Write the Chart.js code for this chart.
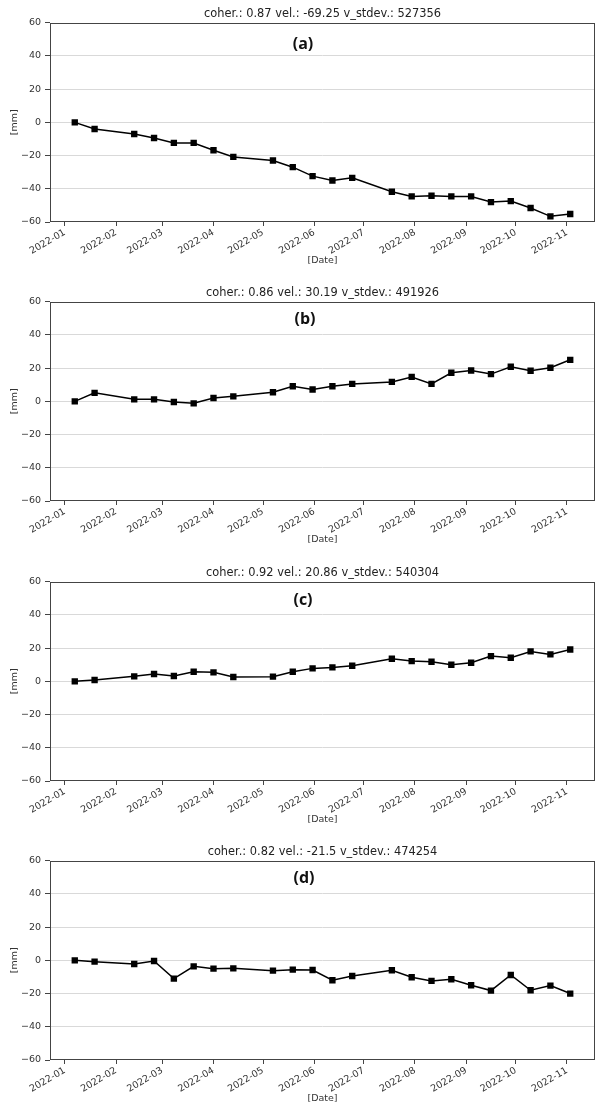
<!DOCTYPE html>
<html>
<head>
<meta charset="utf-8">
<script src="https://cdn.jsdelivr.net/npm/chart.js@4.4.0/dist/chart.umd.min.js"></script>
<style>
  body { margin: 0; background: #fff; width: 597px; height: 1103px; overflow: hidden; position: relative; }
  canvas { position: absolute; left: 0; }
  .tag { position: absolute; font-family: "Open Sans", sans-serif; font-weight: 700; font-size: 16px; color: #111; transform: translate(-50%, -50%); }
</style>
</head>
<body>
<canvas id="ca" width="597" height="270" style="top:0px"></canvas>
<canvas id="cb" width="597" height="270" style="top:279px"></canvas>
<canvas id="cc" width="597" height="270" style="top:559px"></canvas>
<canvas id="cd" width="597" height="270" style="top:838px"></canvas>
<div class="tag" style="left:303px;top:43px">(a)</div>
<div class="tag" style="left:305px;top:318px">(b)</div>
<div class="tag" style="left:303px;top:599px">(c)</div>
<div class="tag" style="left:304px;top:877px">(d)</div>
<script>
// ───── data ─────
const dates = ['2022-01-07','2022-01-19','2022-02-12','2022-02-24','2022-03-08','2022-03-20',
  '2022-04-01','2022-04-13','2022-05-07','2022-05-19','2022-05-31','2022-06-12','2022-06-24',
  '2022-07-18','2022-07-30','2022-08-11','2022-08-23','2022-09-04','2022-09-16','2022-09-28',
  '2022-10-10','2022-10-22','2022-11-03'];

const monthTicks = ['2022-01','2022-02','2022-03','2022-04','2022-05','2022-06',
  '2022-07','2022-08','2022-09','2022-10','2022-11'];

const dispA = [0, -4, -7, -9.4, -12.4, -12.4, -16.8, -20.8, -23, -27, -32.4, -35, -33.4,
  -41.8, -44.6, -44.2, -44.6, -44.6, -48, -47.4, -51.6, -56.6, -55.2];
const dispB = [0, 5.1, 1.2, 1.2, -0.4, -1.2, 2, 3, 5.5, 9.1, 7.1, 9.1, 10.5,
  11.7, 14.7, 10.5, 17.2, 18.6, 16.4, 20.8, 18.4, 20.2, 25];
const dispC = [0, 0.8, 3, 4.4, 3.2, 5.8, 5.4, 2.6, 2.8, 5.8, 7.8, 8.4, 9.4,
  13.6, 12.2, 11.8, 10, 11.2, 15.2, 14.2, 18, 16.2, 19.2];
const dispD = [0, -0.8, -2.2, -0.4, -11, -3.6, -5, -4.8, -6.2, -5.6, -5.8, -12, -9.4,
  -6, -10.2, -12.4, -11.4, -15, -18.2, -8.8, -18, -15.2, -20];

const titles = [
  'coher.: 0.87 vel.: -69.25 v_stdev.: 527356',
  'coher.: 0.86 vel.: 30.19 v_stdev.: 491926',
  'coher.: 0.92 vel.: 20.86 v_stdev.: 540304',
  'coher.: 0.82 vel.: -21.5 v_stdev.: 474254'
];

// days since 2022-01-01 (no date adapter available, so use a linear axis)
const t0 = Date.UTC(2022, 0, 1);
function dayOf(s) {
  const p = s.split('-').map(Number);
  return (Date.UTC(p[0], p[1] - 1, p[2] || 1) - t0) / 86400000;
}
const tickDays = monthTicks.map(dayOf);

const FONT = '"DejaVu Sans", sans-serif';

const frame = {
  id: 'frame',
  beforeDatasetsDraw(chart) {
    const a = chart.chartArea, ctx = chart.ctx;
    ctx.save();
    ctx.strokeStyle = '#444';
    ctx.lineWidth = 1;
    ctx.strokeRect(Math.round(a.left) + 0.5, Math.round(a.top) + 0.5,
      Math.round(a.right - a.left) - 1, Math.round(a.bottom - a.top) - 1);
    ctx.restore();
  }
};

function makeChart(id, values, title) {
  new Chart(document.getElementById(id), {
    type: 'line',
    data: {
      datasets: [{
        data: dates.map((d, i) => ({ x: dayOf(d), y: values[i] })),
        borderColor: '#000',
        backgroundColor: '#000',
        borderWidth: 1.5,
        pointStyle: 'rect',
        pointRadius: 4.5,
        pointBorderWidth: 0,
        tension: 0
      }]
    },
    options: {
      responsive: false,
      animation: false,
      layout: { autoPadding: false, padding: { left: 0, right: 2, top: 0, bottom: 0 } },
      plugins: {
        legend: { display: false },
        tooltip: { enabled: false },
        title: {
          display: true, text: title, fullSize: false,
          color: '#222', font: { family: FONT, size: 11.4, weight: 'normal' },
          padding: { top: 7, bottom: 2 }
        }
      },
      scales: {
        x: {
          type: 'linear', min: -9, max: 321,
          afterBuildTicks: s => { s.ticks = tickDays.map(v => ({ value: v })); },
          afterFit: s => { s.height = 48; s.paddingLeft = 0; s.paddingRight = 0; },
          ticks: {
            autoSkip: false, minRotation: 30, maxRotation: 30, padding: 1,
            color: '#333', font: { family: FONT, size: 9.5 },
            callback: v => monthTicks[tickDays.indexOf(v)]
          },
          grid: { drawOnChartArea: false, tickColor: '#444', tickLength: 4 },
          border: { display: false },
          title: {
            display: true, text: '[Date]', color: '#333',
            font: { family: FONT, size: 9.5 }, padding: { top: 0, bottom: 4 }
          }
        },
        y: {
          min: -60, max: 60,
          afterFit: s => { s.width = 50; },
          ticks: {
            stepSize: 20, padding: 4,
            color: '#333', font: { family: FONT, size: 9.5 },
            callback: v => String(v).replace('-', '\u2212')
          },
          grid: {
            color: c => (Math.abs(c.tick.value) === 60 ? 'rgba(0,0,0,0)' : '#d9d9d9'),
            tickColor: '#444', tickLength: 5, lineWidth: 1
          },
          border: { display: false },
          title: {
            display: true, text: '[mm]', color: '#333',
            font: { family: FONT, size: 9.5 }, padding: { top: 9, bottom: 0 }
          }
        }
      }
    },
    plugins: [frame]
  });
}

makeChart('ca', dispA, titles[0]);
makeChart('cb', dispB, titles[1]);
makeChart('cc', dispC, titles[2]);
makeChart('cd', dispD, titles[3]);
</script>
</body>
</html>
